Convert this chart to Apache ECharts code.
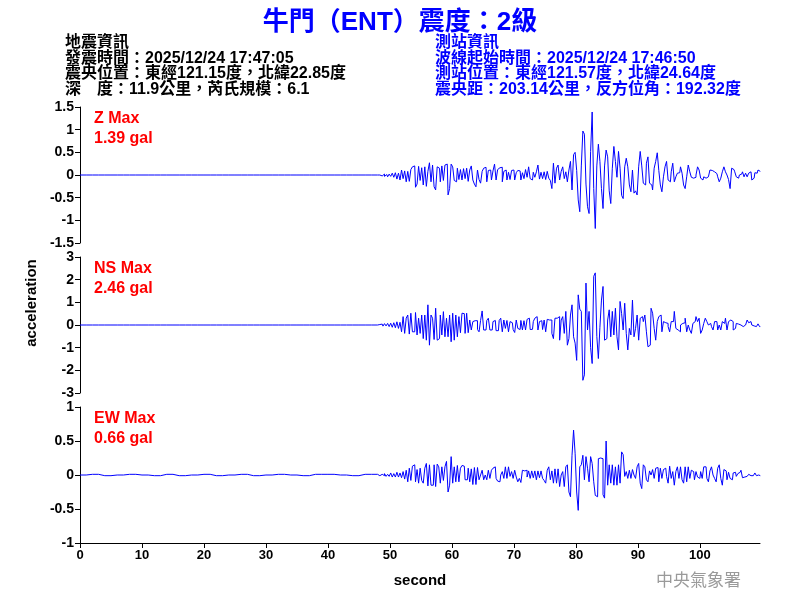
<!DOCTYPE html>
<html>
<head>
<meta charset="utf-8">
<title>牛門（ENT）震度：2級</title>
<script src="https://cdn.jsdelivr.net/npm/echarts@6/dist/echarts.min.js"></script>
<style>
  html, body { margin: 0; padding: 0; background: #fff; }
  #chart { width: 800px; height: 600px; }
</style>
</head>
<body>
<div id="chart"></div>
<script>
// 標題與資訊
const titleText = '牛門（ENT）震度：2級'
const quakeInfo = [
  '地震資訊',
  '發震時間：2025/12/24 17:47:05',
  '震央位置：東經121.15度，北緯22.85度',
  '深　度：11.9公里，芮氏規模：6.1'
]
const stationInfo = [
  '測站資訊',
  '波線起始時間：2025/12/24 17:46:50',
  '測站位置：東經121.57度，北緯24.64度',
  '震央距：203.14公里，反方位角：192.32度'
]

// 三個分量: 名稱, 最大值, y 軸範圍 [min, max, interval]
const components = ['Z', 'NS', 'EW']
const maxLabels = ['1.39 gal', '2.46 gal', '0.66 gal']
const yRanges = [[-1.5, 1.5, 0.5], [-3, 3, 1], [-1, 1, 0.5]]

// 時間軸 (秒)
const X_MAX = 109.7
const X_INTERVAL = 10

// 事件前 (0-46 秒, 每 2 秒一點)
const QUIET_DT = 2
const zQuiet = [0, 0, 0, 0, 0, 0, 0, 0, 0, 0, 0, 0, 0, 0, 0, 0, 0, 0, 0, 0, 0, 0, 0, 0]
const nsQuiet = [0, 0, 0, 0, 0, 0, 0, 0, 0, 0, 0, 0, 0, 0, 0, 0, 0, 0, 0, 0, 0, 0, 0, 0]
const ewQuiet = [0, 0.01, -0.01, 0, 0.01, 0, -0.01, 0.01, -0.01, 0, 0.01, -0.01,
  0, 0.01, -0.01, 0, 0.01, 0, -0.01, 0.01, 0.01, 0, -0.01, 0.01]

// 波形 (48 秒起, 每 0.25 秒一點)
const WAVE_T0 = 48
const WAVE_DT = 0.25
const zWave = [
  0, 0, 0.01, -0.02, 0.02, -0.03, 0.01, -0.04, 0.02, -0.03, 0.04, -0.05,
  0.05, -0.09, 0.04, -0.11, 0.11, -0.08, 0.09, -0.15, 0.08, -0.14, 0.12, 0.18,
  0.2, -0.27, -0.2, 0.19, -0.12, 0.16, -0.22, 0.18, -0.25, 0.08, 0.27, -0.15,
  0.22, -0.26, -0.33, 0.18, 0.15, -0.15, 0.2, -0.12, 0.22, 0.24, -0.44, -0.3,
  0.24, 0.18, -0.12, -0.15, 0.15, -0.1, 0.12, -0.11, 0.14, -0.08, 0.15, -0.14,
  0.11, 0.2, -0.11, -0.2, -0.26, 0.11, -0.1, -0.18, 0.08, 0.15, 0.17, -0.15,
  0.1, 0.11, -0.11, 0.09, 0.24, -0.11, 0.12, 0.16, 0.17, -0.15, 0.08, 0.11,
  -0.11, 0.06, -0.1, 0.1, 0.11, -0.11, 0.05, 0.1, 0.09, -0.11, 0.05, -0.08,
  0.12, -0.05, 0.18, -0.08, -0.11, 0.06, -0.05, 0.07, 0.22, -0.09, 0.06, -0.08,
  0.07, -0.1, 0.08, -0.07, -0.12, -0.3, 0.26, -0.18, 0.15, 0.22, -0.11, 0.08,
  0.18, -0.08, 0.07, -0.15, 0.11, 0.3, -0.33, 0.45, 0.5, 0.1, -0.55, -0.81,
  0.2, 0.97, 0.9, -0.2, -0.7, -0.85, 0.52, 1.39, -0.3, -1.18, 0.2, 0.68,
  0.3, -0.3, -0.74, 0.2, 0.55, 0.4, -0.35, -0.63, 0.15, 0.63, 0.3, -0.05,
  0.52, 0.15, -0.45, -0.52, 0.18, 0.37, 0.18, -0.22, -0.37, 0.11, -0.4, -0.35,
  -0.44, 0.18, 0.52, 0.2, -0.18, -0.22, 0.26, 0.4, -0.18, -0.22, -0.33, 0.15,
  0.3, 0.49, 0.1, -0.22, -0.37, -0.04, 0.18, 0.3, -0.11, -0.15, 0.07, 0.26,
  -0.15, -0.04, 0.04, 0.05, 0.18, 0.04, -0.22, -0.3, -0.04, 0.22, 0.07, -0.05,
  -0.07, -0.05, 0, 0.18, 0.11, -0.07, -0.11, -0.04, -0.07, -0.04, -0.07, 0.11,
  0.1, 0.07, 0.05, 0.03, -0.04, -0.15, -0.07, 0.07, 0.18, 0.07, 0, -0.1,
  -0.3, 0.15, 0.12, 0.07, -0.04, -0.07, 0, 0.02, 0.07, -0.04, 0.04, -0.04,
  0.04, 0.07, -0.11, -0.07, 0.05, 0.04, 0.11, 0.08
]
const nsWave = [
  0, 0.02, -0.03, 0.04, -0.05, 0.06, -0.04, 0.07, -0.07, 0.08, -0.1, 0.1,
  -0.12, 0.14, -0.15, 0.12, -0.3, 0.37, -0.37, 0.3, 0.44, -0.4, 0.52, -0.3,
  -0.3, 0.55, -0.44, 0.3, -0.37, 0.44, -0.6, 0.44, -0.67, 0.89, -0.89, 0.44,
  0.3, -0.64, 0.74, -0.67, -0.6, 0.44, -0.44, 0.59, -0.52, 0.3, -0.52, 0.44,
  -0.74, 0.52, -0.67, 0.44, -0.52, 0.37, -0.34, 0.52, 0.5, -0.37, 0.52, -0.34,
  0.22, -0.22, 0.15, 0.19, 0.19, -0.2, -0.3, 0.2, 0.62, -0.22, -0.22, 0.2,
  0.3, -0.22, -0.22, 0.15, 0.2, -0.25, -0.25, 0.2, 0.3, -0.3, 0.22, -0.15,
  0.2, -0.3, 0.15, 0.1, -0.2, -0.33, 0.22, -0.15, -0.2, 0.2, -0.22, 0.19,
  -0.22, 0.25, 0.3, -0.2, -0.19, 0.15, 0.3, 0.37, -0.22, 0.15, 0.19, -0.2,
  0.22, -0.3, 0.25, 0.22, 0.22, -0.37, -0.6, 0.3, 0.3, 0.37, -0.67, 0.22,
  0.37, -0.37, 0.6, -0.89, -0.6, 0.44, 0.89, -0.52, -0.8, -1.56, 1.33, 0.7,
  0.6, -2.44, -2.2, 1.85, -0.22, 0.6, -1.0, -1.7, 2.15, 2.3, -0.5, -1.48,
  -0.1, 1.1, 1.7, -0.67, -0.6, 0.22, 0.67, -0.52, 0.6, -0.44, 0.74, -0.52,
  -1.1, 1.04, 0.5, -0.22, 0.96, -0.37, -1.1, -0.15, -0.44, 1.1, -0.52, -0.15,
  0.44, -0.67, 0.3, 0.37, 0.15, 0.44, -0.3, -0.96, -0.89, 0.74, 0.52, -0.15,
  -0.67, 0.15, 0.37, 0.44, -0.3, 0.15, 0.1, 0.07, -0.07, -0.3, 0.15, 0.15,
  0.6, -0.15, -0.22, -0.3, 0, 0.07, 0.1, 0.3, -0.3, 0, -0.22, -0.37,
  0.07, 0.15, 0.37, 0.15, 0.3, -0.37, -0.22, 0.07, 0.3, 0.15, 0, 0.07,
  -0.07, -0.22, 0.15, 0.15, -0.22, 0, -0.22, 0.15, 0.07, 0.3, -0.22, 0.15,
  0.22, 0.15, -0.22, -0.15, 0.07, 0.04, 0, -0.07, -0.07, 0, 0.07, 0.22,
  0.1, 0.15, 0, -0.04, -0.07, -0.04, 0.05, -0.07
]
const ewWave = [
  0.01, -0.01, 0, 0.01, -0.01, 0.02, -0.02, 0.01, -0.02, 0.03, -0.03, 0.02,
  -0.03, 0.04, -0.03, 0.03, -0.04, 0.05, -0.06, 0.07, -0.1, 0.1, -0.08, 0.13,
  0.15, -0.1, 0.08, -0.12, 0.1, -0.08, -0.12, 0.1, 0.17, -0.16, 0.15, -0.15,
  -0.15, 0.15, -0.17, 0.16, 0.12, -0.12, 0.12, -0.08, 0.12, 0.2, -0.25, -0.15,
  0.27, -0.12, 0.12, -0.1, 0.14, -0.1, 0.1, 0.14, 0.13, -0.07, -0.07, 0.1,
  -0.1, 0.09, -0.14, 0.11, -0.14, 0.11, -0.07, 0, 0.07, -0.07, 0, -0.07,
  0.07, -0.05, 0.07, 0.1, 0.12, -0.05, -0.09, -0.1, 0, 0.05, -0.05, 0.12,
  -0.05, 0.12, -0.02, 0.05, -0.05, 0.07, -0.03, -0.1, -0.05, -0.11, 0.07, 0.06,
  0.07, -0.03, 0.06, -0.05, 0.06, -0.04, 0.06, -0.07, 0.06, -0.04, 0.06, -0.05,
  -0.08, -0.12, 0.07, 0.12, -0.07, 0.06, -0.12, 0.09, -0.12, 0.09, -0.17, 0,
  0.05, -0.17, 0.12, 0.15, -0.25, -0.32, 0.29, 0.66, 0.32, -0.25, -0.52, 0.12,
  0.15, 0.29, -0.07, 0.27, 0.1, -0.1, 0.27, 0.17, -0.1, -0.3, -0.32, 0.24,
  0.25, 0.24, -0.29, -0.34, 0.5, -0.15, 0.15, -0.12, 0.15, -0.15, 0.12, -0.15,
  0.15, -0.12, 0.34, 0.3, -0.02, 0.05, -0.05, 0.07, -0.05, 0.08, 0, -0.05,
  0.12, 0.17, -0.12, -0.2, 0.15, 0.12, -0.07, -0.1, 0.06, 0, 0.08, -0.05,
  0.1, 0.11, -0.1, 0.1, -0.05, 0.08, 0.1, -0.02, -0.12, 0.13, -0.05, 0.05,
  -0.15, 0.05, 0.12, -0.05, 0.12, -0.07, -0.12, 0.12, -0.1, 0.12, -0.05, 0.07,
  0.05, -0.07, 0.05, -0.03, -0.05, 0.05, -0.05, 0.12, 0.12, -0.05, -0.1, 0.06,
  0.12, 0, -0.05, -0.1, 0.1, 0.15, -0.05, -0.15, 0.08, 0.06, -0.07, 0.04,
  -0.05, -0.07, 0.03, 0.04, -0.02, 0.02, 0.04, 0.07, -0.04, -0.03, -0.02, -0.01,
  0.01, -0.01, -0.01, 0.01, 0.03, -0.01, 0, -0.01
]

const quietSets = [zQuiet, nsQuiet, ewQuiet]
const waveSets = [zWave, nsWave, ewWave]

// 版面
const GRID_LEFT = 80
const GRID_WIDTH = 680
const GRID_TOPS = [107, 257, 407]
const GRID_HEIGHT = 136

const FONT = '"Liberation Sans", Arial, "Noto Sans CJK TC", sans-serif'
const WAVE_COLOR = '#0000ff'

// [時間, 加速度] 點
const toPoints = (quiet, wave) =>
  quiet.map((v, i) => [i * QUIET_DT, v])
    .concat(wave.map((v, i) => [WAVE_T0 + i * WAVE_DT, v]))

const grids = GRID_TOPS.map(top => ({
  left: GRID_LEFT, top: top, width: GRID_WIDTH, height: GRID_HEIGHT
}))

const xAxes = components.map((c, i) => {
  const last = i === components.length - 1
  return {
    type: 'value',
    gridIndex: i,
    min: 0,
    max: X_MAX,
    interval: X_INTERVAL,
    show: last,
    name: last ? 'second' : '',
    nameLocation: 'middle',
    nameGap: 30,
    nameTextStyle: { color: '#000', fontSize: 15, fontWeight: 'bold', fontFamily: FONT },
    axisLine: { show: last, onZero: false, lineStyle: { color: '#000', width: 1 } },
    axisTick: { show: last, length: 5, lineStyle: { color: '#000' } },
    axisLabel: {
      show: last, color: '#000', fontSize: 13, fontWeight: 'bold', fontFamily: FONT, margin: 6,
      showMaxLabel: false
    },
    splitLine: { show: false }
  }
})

const yAxes = components.map((c, i) => ({
  type: 'value',
  gridIndex: i,
  min: yRanges[i][0],
  max: yRanges[i][1],
  interval: yRanges[i][2],
  axisLine: { show: true, onZero: false, lineStyle: { color: '#000', width: 1 } },
  axisTick: { show: true, length: 5, lineStyle: { color: '#000' } },
  axisLabel: { color: '#000', fontSize: 14, fontWeight: 'bold', fontFamily: FONT, margin: 6 },
  splitLine: { show: false }
}))

const series = components.map((c, i) => ({
  name: c,
  type: 'line',
  xAxisIndex: i,
  yAxisIndex: i,
  data: toPoints(quietSets[i], waveSets[i]),
  step: 'middle',
  showSymbol: false,
  symbol: 'none',
  silent: true,
  lineStyle: { color: WAVE_COLOR, width: 1 }
}))

// 文字
const infoText = (lines, x, color) => lines.map((t, i) => ({
  type: 'text',
  left: x,
  top: 35 + i * 15.5,
  style: { text: t, fill: color, font: 'bold 16px ' + FONT }
}))

const maxText = components.map((c, i) => ({
  type: 'text',
  left: 94,
  top: GRID_TOPS[i] + 2,
  style: {
    text: c + ' Max\n' + maxLabels[i],
    fill: '#ff0000',
    font: 'bold 16px ' + FONT,
    lineHeight: 20
  }
}))

const graphics = [
  ...infoText(quakeInfo, 65, '#000'),
  ...infoText(stationInfo, 435, '#0000ff'),
  ...maxText,
  {
    type: 'text',
    x: 32,
    y: 303,
    rotation: Math.PI / 2,
    style: {
      text: 'acceleration', fill: '#000', font: 'bold 15px ' + FONT,
      align: 'center', verticalAlign: 'middle'
    }
  },
  {
    type: 'text',
    left: 656,
    top: 571,
    style: { text: '中央氣象署', fill: '#9a9a9a', font: '17px "Noto Sans CJK TC", serif' }
  }
]

const chart = echarts.init(document.getElementById('chart'))
chart.setOption({
  animation: false,
  backgroundColor: '#fff',
  title: {
    text: titleText,
    left: 'center',
    top: 5,
    textStyle: { color: '#0000ff', fontSize: 26, fontWeight: 'bold', fontFamily: FONT }
  },
  grid: grids,
  xAxis: xAxes,
  yAxis: yAxes,
  series: series,
  graphic: graphics
})
</script>
</body>
</html>
